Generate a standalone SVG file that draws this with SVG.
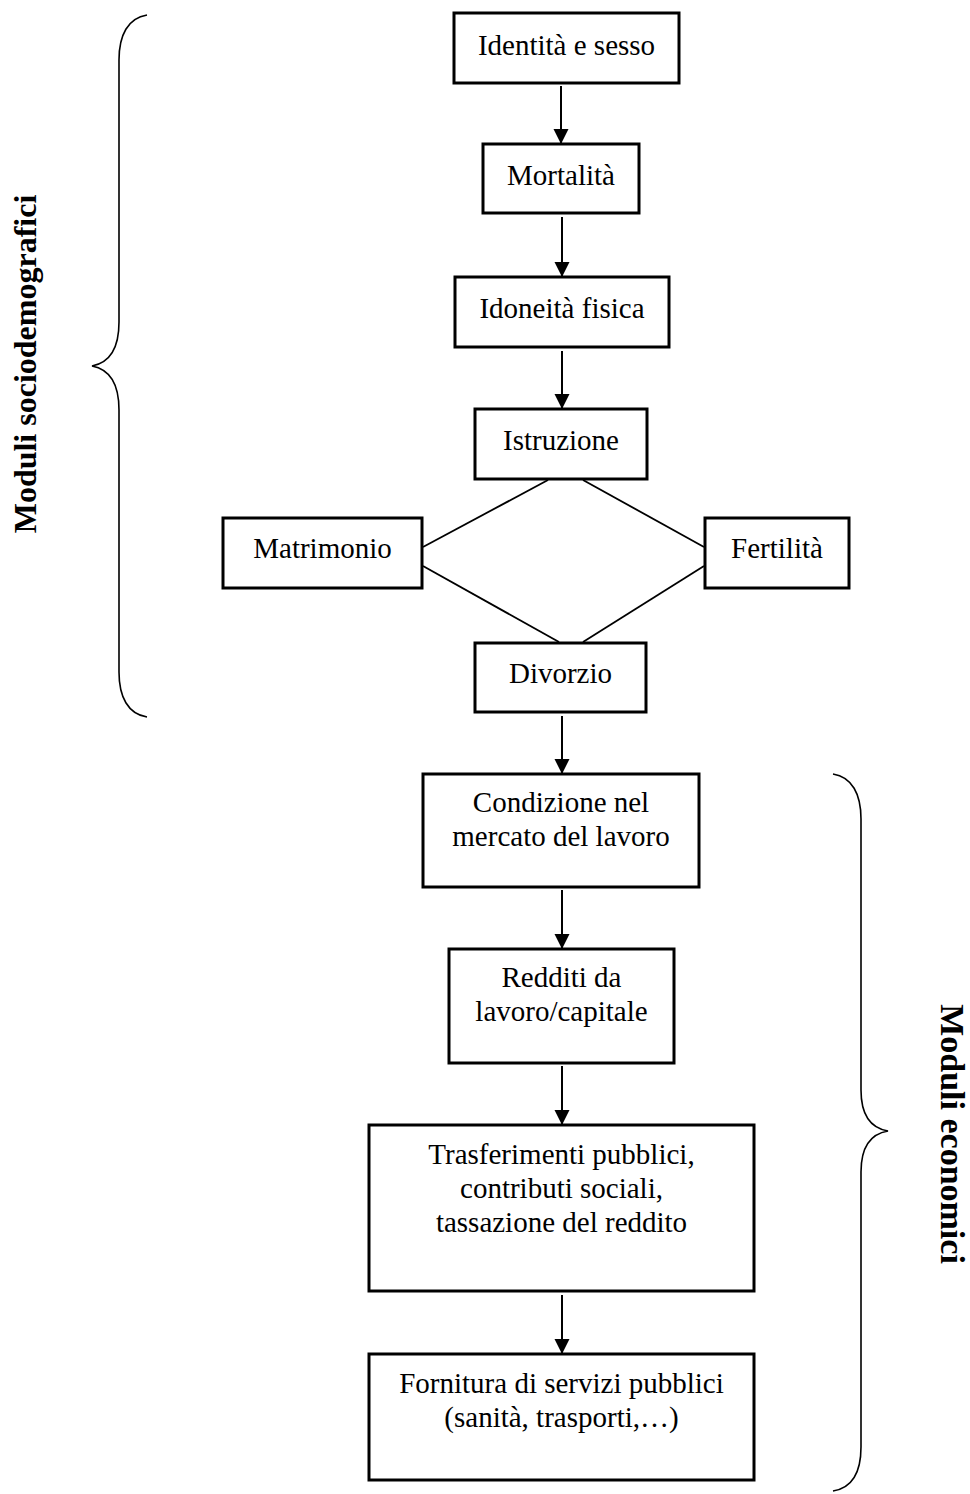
<svg xmlns="http://www.w3.org/2000/svg" width="970" height="1494" viewBox="0 0 970 1494">
<style>
.box{fill:#fff;stroke:#000;stroke-width:3}
.t{font-family:"Liberation Serif","Times New Roman",serif;font-size:29px;fill:#000;text-anchor:middle}
.lbl{font-family:"Liberation Serif","Times New Roman",serif;font-weight:bold;fill:#000;text-anchor:middle}
.arr{stroke:#000;stroke-width:2;fill:none;marker-end:url(#ah)}
.ln{stroke:#000;stroke-width:1.8;fill:none}
.brace{stroke:#000;stroke-width:1.6;fill:none}
</style>
<defs>
<marker id="ah" markerUnits="userSpaceOnUse" markerWidth="16" markerHeight="16" viewBox="0 0 16 16" refX="15" refY="8" orient="auto">
<path d="M0,0.5 L15,8 L0,15.5 Z" fill="#000"/>
</marker>
</defs>
<rect width="970" height="1494" fill="#fff"/>
<g id="connectors">
<line class="arr" x1="561" y1="86" x2="561" y2="144"/>
<line class="arr" x1="562" y1="217" x2="562" y2="277"/>
<line class="arr" x1="562" y1="351" x2="562" y2="409"/>
<line class="arr" x1="562" y1="716" x2="562" y2="774"/>
<line class="arr" x1="562" y1="890" x2="562" y2="949"/>
<line class="arr" x1="562" y1="1066" x2="562" y2="1125"/>
<line class="arr" x1="562" y1="1295" x2="562" y2="1354"/>
<line class="ln" x1="548" y1="480" x2="423" y2="547"/>
<line class="ln" x1="583" y1="480" x2="704" y2="547"/>
<line class="ln" x1="423" y1="566" x2="559" y2="642"/>
<line class="ln" x1="704" y1="566" x2="583" y2="642"/>
</g>
<g id="n-identita"><rect class="box" x="454" y="13" width="225" height="70"/><text class="t" x="566.5" y="55">Identità e sesso</text></g>
<g id="n-mortalita"><rect class="box" x="483" y="144" width="156" height="69"/><text class="t" x="561" y="185">Mortalità</text></g>
<g id="n-idoneita"><rect class="box" x="455" y="277" width="214" height="70"/><text class="t" x="562" y="318">Idoneità fisica</text></g>
<g id="n-istruzione"><rect class="box" x="475" y="409" width="172" height="70"/><text class="t" x="561" y="450">Istruzione</text></g>
<g id="n-matrimonio"><rect class="box" x="223" y="518" width="199" height="70"/><text class="t" x="322.5" y="558">Matrimonio</text></g>
<g id="n-fertilita"><rect class="box" x="705" y="518" width="144" height="70"/><text class="t" x="777" y="558">Fertilità</text></g>
<g id="n-divorzio"><rect class="box" x="475" y="643" width="171" height="69"/><text class="t" x="560.5" y="683">Divorzio</text></g>
<g id="n-condizione"><rect class="box" x="423" y="774" width="276" height="113"/><text class="t" x="561" y="812">Condizione nel</text><text class="t" x="561" y="846">mercato del lavoro</text></g>
<g id="n-redditi"><rect class="box" x="449" y="949" width="225" height="114"/><text class="t" x="561.5" y="987">Redditi da</text><text class="t" x="561.5" y="1021">lavoro/capitale</text></g>
<g id="n-trasferimenti"><rect class="box" x="369" y="1125" width="385" height="166"/><text class="t" x="561.5" y="1164">Trasferimenti pubblici,</text><text class="t" x="561.5" y="1198">contributi sociali,</text><text class="t" x="561.5" y="1232">tassazione del reddito</text></g>
<g id="n-fornitura"><rect class="box" x="369" y="1354" width="385" height="126"/><text class="t" x="561.5" y="1393">Fornitura di servizi pubblici</text><text class="t" x="561.5" y="1427">(sanità, trasporti,…)</text></g>
<g id="brace-socio">
<path class="brace" d="M147,15 C128,18 119,35 119,60 L119,322 C119,350 108,363 92,366 C108,369 119,382 119,410 L119,672 C119,697 128,714 147,717"/>
<text class="lbl" font-size="32" transform="translate(36,364) rotate(-90)">Moduli sociodemografici</text>
</g>
<g id="brace-econ">
<path class="brace" d="M833,774 C852,777 861,794 861,819 L861,1090 C861,1115 870,1128 888,1131 C870,1134 861,1147 861,1172 L861,1447 C861,1472 852,1488 833,1491"/>
<text class="lbl" font-size="34" transform="translate(941,1134) rotate(90)">Moduli economici</text>
</g>
</svg>
